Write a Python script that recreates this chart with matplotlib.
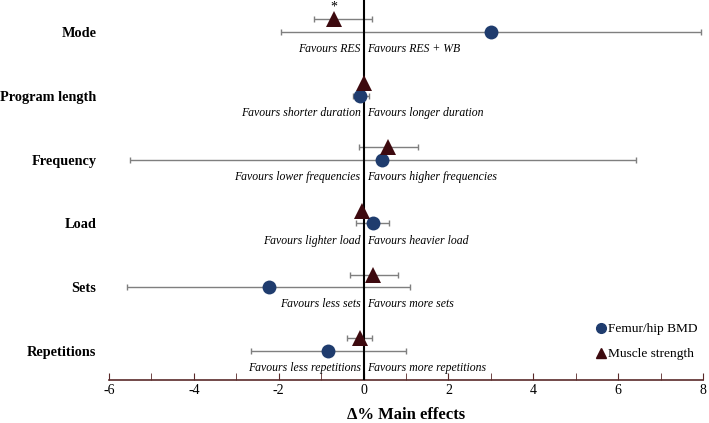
import numpy as np
import matplotlib
matplotlib.use('Agg')
import matplotlib.pyplot as plt
from matplotlib.lines import Line2D

plt.rcParams['font.family'] = ['Liberation Serif', 'DejaVu Serif']
plt.rcParams['axes.unicode_minus'] = False

categories = ['Mode', 'Program length', 'Frequency', 'Load', 'Sets', 'Repetitions']
left_txt = ['Favours RES', 'Favours shorter duration', 'Favours lower frequencies',
            'Favours lighter load', 'Favours less sets', 'Favours less repetitions']
right_txt = ['Favours RES + WB', 'Favours longer duration', 'Favours higher frequencies',
             'Favours heavier load', 'Favours more sets', 'Favours more repetitions']

# Femur/hip BMD: effect, lower, upper
bmd = [3.0, -0.08, 0.44, 0.22, -2.23, -0.83]
bmd_lo = [-1.94, -0.26, -5.5, -0.18, -5.58, -2.66]
bmd_hi = [7.95, 0.13, 6.43, 0.60, 1.09, 1.01]

# Muscle strength
ms = [-0.69, 0.0, 0.58, -0.03, 0.23, -0.09]
ms_lo = [-1.16, -0.02, -0.10, -0.05, -0.31, -0.38]
ms_hi = [0.19, 0.02, 1.28, -0.01, 0.82, 0.21]

blue = '#1f3c6e'
red = '#3d0a0f'
axcol = '#5a2a2a'

fig = plt.figure(figsize=(7.09, 4.23), dpi=100)
ax = fig.add_axes([109/709, 43/423, (703-109)/709, 380/423])

rows = np.arange(len(categories))
off = 0.196

bmd = np.array(bmd); ms = np.array(ms)
ax.errorbar(bmd, rows, xerr=[bmd - np.array(bmd_lo), np.array(bmd_hi) - bmd],
            fmt='none', ecolor='#7f7f7f', elinewidth=1.0, capsize=2.5, capthick=1.0, zorder=2)
ax.errorbar(ms, rows - off, xerr=[ms - np.array(ms_lo), np.array(ms_hi) - ms],
            fmt='none', ecolor='#7f7f7f', elinewidth=1.0, capsize=2.5, capthick=1.0, zorder=2)
ax.axvline(0, color='black', lw=1.5, zorder=3)
ax.plot(bmd, rows, 'o', color=blue, ms=10, zorder=4, markeredgewidth=0)
ax.plot(ms, rows - off, '^', color=red, ms=11, zorder=4, markeredgewidth=0)

ax.text(ms[0], -off - 0.19, '*', ha='center', va='center', fontsize=10)

for i in rows:
    ax.text(-0.07, i + 0.27, left_txt[i], ha='right', va='center', fontsize=8.5, style='italic')
    ax.text(0.09, i + 0.27, right_txt[i], ha='left', va='center', fontsize=8.5, style='italic')

ax.set_xlim(-6, 8)
ax.set_ylim(5.455, -0.5)
ax.set_yticks(rows)
ax.set_yticklabels(categories, fontsize=10.3, fontweight='bold')
ax.tick_params(axis='y', length=0, pad=9)

ax.set_xticks(np.arange(-6, 9, 2))
ax.set_xticks(np.arange(-5, 8, 2), minor=True)
ax.tick_params(axis='x', which='both', direction='in', length=5, color=axcol, labelsize=10, pad=3)
for s in ['top', 'right', 'left']:
    ax.spines[s].set_visible(False)
ax.spines['bottom'].set_color(axcol)
ax.spines['bottom'].set_linewidth(1.2)
ax.set_xlabel('Δ% Main effects', fontsize=12, fontweight='bold', labelpad=7)

handles = [Line2D([], [], marker='o', color=blue, ls='none', ms=7),
           Line2D([], [], marker='^', color=red, ls='none', ms=7.5)]
fig.legend(handles, ['Femur/hip BMD', 'Muscle strength'], loc='upper left',
           bbox_to_anchor=(581/709, 1 - 311/423), frameon=False, fontsize=9.6,
           handletextpad=-0.1, labelspacing=0.95, handlelength=1.2)

fig.savefig('out.png', dpi=100)
